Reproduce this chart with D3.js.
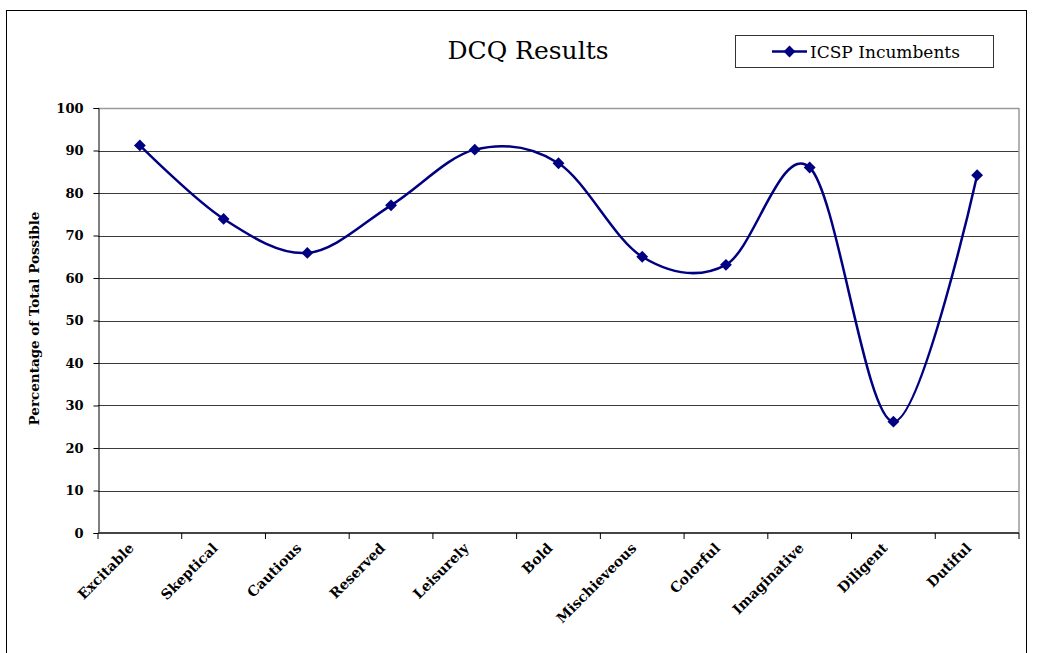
<!DOCTYPE html>
<html>
<head>
<meta charset="utf-8">
<script src="https://cdn.jsdelivr.net/npm/d3@7"></script>
<style>
  html, body { margin: 0; padding: 0; background: #fff; }
  svg { display: block; }
</style>
</head>
<body>
<script>
// Scale names on the x axis
const categories = ["Excitable", "Skeptical", "Cautious", "Reserved", "Leisurely", "Bold",
  "Mischieveous", "Colorful", "Imaginative", "Diligent", "Dutiful"];
// Percentage of total possible for the ICSP incumbents
const incumbents = [91.2, 73.9, 65.9, 77.1, 90.2, 87.0, 65.0, 63.1, 86.0, 26.2, 84.2];
const yTicks = [0, 10, 20, 30, 40, 50, 60, 70, 80, 90, 100];
const seriesName = "ICSP Incumbents";
const titleText = "DCQ Results";
const yTitle = "Percentage of Total Possible";

const W = 1037, H = 653;
const plot = { left: 98, right: 1019, top: 108, bottom: 533 };
const navy = "#000080";
const serif = "'DejaVu Serif', serif";

const svg = d3.select("body").append("svg").attr("width", W).attr("height", H);

// outer frame
svg.append("rect").attr("x", 6.5).attr("y", 10.5).attr("width", 1020).attr("height", 660)
  .attr("fill", "#fff").attr("stroke", "#000").attr("stroke-width", 1);

const x = d3.scaleBand().domain(categories).range([plot.left, plot.right]).padding(0);
const y = d3.scaleLinear().domain([0, 100]).range([plot.bottom, plot.top]);

// horizontal gridlines
svg.append("g").selectAll("line").data(yTicks.filter(t => t > 0 && t < 100)).join("line")
  .attr("x1", plot.left).attr("x2", plot.right)
  .attr("y1", d => Math.round(y(d)) + 0.5).attr("y2", d => Math.round(y(d)) + 0.5)
  .attr("stroke", "#3a3a3a").attr("stroke-width", 1);

// plot area top and right edges
svg.append("line").attr("x1", plot.left).attr("x2", plot.right)
  .attr("y1", plot.top + 0.5).attr("y2", plot.top + 0.5)
  .attr("stroke", "#9a9a9a").attr("stroke-width", 1.5);
svg.append("line").attr("x1", plot.right).attr("x2", plot.right)
  .attr("y1", plot.top).attr("y2", plot.bottom)
  .attr("stroke", "#9a9a9a").attr("stroke-width", 1.5);

// y axis
const yAxis = svg.append("g").attr("transform", `translate(${plot.left + 0.5},0)`)
  .call(d3.axisLeft(y).tickValues(yTicks).tickSize(5).tickPadding(10).tickFormat(d3.format("d")));
yAxis.select(".domain").attr("stroke", "#000").attr("stroke-width", 1);
yAxis.selectAll(".tick line").attr("stroke", "#000");
yAxis.selectAll("text").attr("font-family", serif).attr("font-size", 13)
  .attr("font-weight", "bold").attr("fill", "#000");

// x axis with ticks on band boundaries
const xAxis = svg.append("g").attr("transform", `translate(0,${plot.bottom})`);
xAxis.append("line").attr("x1", plot.left).attr("x2", plot.right)
  .attr("y1", 0).attr("y2", 0).attr("stroke", "#444").attr("stroke-width", 2);
const bounds = categories.map(c => x(c)).concat([x(categories[categories.length - 1]) + x.bandwidth()]);
xAxis.selectAll("line.tk").data(bounds).join("line").attr("class", "tk")
  .attr("x1", d => d).attr("x2", d => d).attr("y1", 0).attr("y2", 6)
  .attr("stroke", "#000").attr("stroke-width", 1);
xAxis.selectAll("text").data(categories).join("text")
  .attr("transform", d => `translate(${x(d) + x.bandwidth() / 2 - 5},${16}) rotate(-45)`)
  .attr("text-anchor", "end").attr("font-family", serif).attr("font-size", 14)
  .attr("font-weight", "bold").attr("fill", "#000").text(d => d);

// y axis title
svg.append("text").attr("transform", `translate(39,${(plot.top + plot.bottom) / 2 - 2}) rotate(-90)`)
  .attr("text-anchor", "middle").attr("font-family", serif).attr("font-size", 13.5)
  .attr("font-weight", "bold").attr("fill", "#000").text(yTitle);

// chart title
svg.append("text").attr("x", 528).attr("y", 59).attr("text-anchor", "middle")
  .attr("font-family", serif).attr("font-size", 25).attr("fill", "#000").text(titleText);

// smoothed series line
const line = d3.line()
  .x((d, i) => x(categories[i]) + x.bandwidth() / 2)
  .y(d => y(d))
  .curve(d3.curveCardinal.tension(0));
svg.append("path").datum(incumbents).attr("d", line)
  .attr("fill", "none").attr("stroke", navy).attr("stroke-width", 2.5);

// diamond markers
const diamond = d3.symbol().type(d3.symbolSquare).size(70);
svg.append("g").selectAll("path").data(incumbents).join("path")
  .attr("d", diamond)
  .attr("transform", (d, i) => `translate(${x(categories[i]) + x.bandwidth() / 2},${y(d)}) rotate(45)`)
  .attr("fill", navy);

// legend
const lg = svg.append("g").attr("transform", "translate(735,35)");
lg.append("rect").attr("x", 0.5).attr("y", 0.5).attr("width", 258).attr("height", 32)
  .attr("fill", "#fff").attr("stroke", "#333").attr("stroke-width", 1);
lg.append("line").attr("x1", 37).attr("x2", 72).attr("y1", 16.5).attr("y2", 16.5)
  .attr("stroke", navy).attr("stroke-width", 2.5);
lg.append("path").attr("d", diamond).attr("transform", "translate(54.5,16.5) rotate(45)").attr("fill", navy);
lg.append("text").attr("x", 75).attr("y", 22.5).attr("font-family", serif).attr("font-size", 17)
  .attr("fill", "#000").text(seriesName);
</script>
</body>
</html>
